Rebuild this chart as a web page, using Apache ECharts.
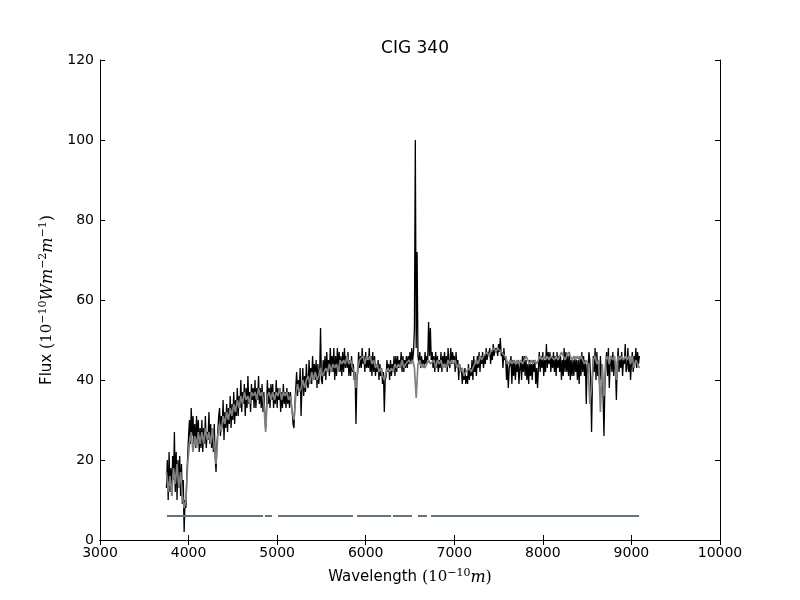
<!DOCTYPE html>
<html>
<head>
<meta charset="utf-8">
<script src="https://cdn.jsdelivr.net/npm/echarts@6/dist/echarts.min.js"></script>
<style>
html, body { margin: 0; padding: 0; background: #fff; }
#main { width: 800px; height: 600px; }
</style>
</head>
<body>
<div id="main"></div>
<script>
// observed spectrum sampling (Angstrom)
var obsStart = 3750;
var obsStep = 10;

// observed flux (black), 200 A per row
var fluxObs = [
  13, 20, 10, 22, 12, 18, 11, 21, 15, 27, 12, 22, 10, 20, 13, 21, 11, 19, 9, 15,
  2, 10, 8, 16, 21, 26, 30, 24, 33, 26, 31, 24, 29, 23, 31, 25, 30, 22, 28, 23,
  30, 22, 28, 24, 31, 23, 27, 25, 32, 24, 29, 23, 28, 22, 29, 21, 17, 24, 27, 31,
  33, 26, 31, 28, 35, 25, 32, 28, 34, 27, 33, 29, 36, 28, 34, 30, 37, 29, 35, 31,
  38, 31, 36, 33, 40, 32, 37, 34, 39, 31, 38, 33, 41, 34, 37, 32, 39, 35, 38, 33,
  40, 33, 38, 35, 41, 34, 38, 33, 39, 32, 37, 31, 28, 33, 40, 34, 38, 33, 39, 35,
  39, 33, 37, 34, 40, 33, 38, 35, 38, 32, 37, 33, 39, 34, 37, 33, 38, 34, 37, 33,
  37, 34, 32, 29, 28, 34, 38, 42, 36, 40, 37, 43, 31, 38, 43, 36, 41, 37, 44, 39,
  38, 45, 40, 43, 39, 46, 41, 44, 40, 45, 38, 44, 39, 42, 53, 40, 39, 45, 41, 46,
  40, 47, 42, 45, 41, 48, 43, 46, 42, 48, 40, 46, 41, 48, 43, 47, 42, 46, 41, 47,
  42, 48, 43, 46, 43, 47, 41, 45, 41, 46, 42, 44, 40, 42, 29, 40, 42, 47, 43, 46,
  43, 48, 44, 46, 42, 47, 43, 45, 43, 48, 42, 46, 41, 47, 42, 46, 41, 44, 42, 45,
  40, 44, 41, 43, 39, 42, 32, 40, 41, 45, 42, 44, 40, 45, 41, 44, 42, 46, 41, 46,
  42, 46, 43, 45, 43, 47, 42, 46, 42, 45, 43, 46, 43, 46, 44, 47, 44, 48, 45, 47,
  53, 100, 48, 72, 46, 44, 47, 43, 46, 44, 45, 43, 47, 44, 46, 45, 54.5, 46, 53, 45,
  47, 43, 46, 42, 47, 43, 46, 42, 45, 43, 47, 42, 46, 44, 47, 43, 46, 42, 48, 44,
  43, 48, 44, 47, 45, 46, 42, 47, 43, 45, 40, 44, 42, 43, 39, 42, 40, 43, 39, 41,
  39, 44, 40, 43, 41, 45, 40, 46, 42, 44, 41, 46, 43, 47, 42, 46, 44, 47, 43, 46,
  44, 48, 45, 47, 46, 48, 44, 47, 45, 49, 46, 48, 47, 48, 46, 49, 47, 50.5, 46, 47,
  43, 48, 45, 46, 40, 44, 38, 43, 44, 46, 39, 45, 41, 45, 40, 44, 42, 45, 39, 43,
  45, 40, 46, 42, 46, 41, 45, 40, 44, 39, 45, 41, 44, 40, 45, 42, 45, 39, 43, 38,
  43, 47, 42, 46, 43, 47, 41, 45, 42, 49, 43, 47, 44, 47, 42, 46, 43, 47, 42, 46,
  41, 47, 43, 46, 42, 46, 40, 45, 41, 48, 42, 47, 42, 46, 41, 47, 40, 45, 41, 45,
  41, 46, 42, 45, 40, 45, 39, 46, 41, 47, 42, 46, 41, 45, 34, 44, 42, 47, 45, 40,
  27, 40, 46, 42, 48, 40, 47, 41, 44, 39, 46, 40, 44, 36, 26, 38, 44, 47, 41, 48,
  38, 44, 46, 42, 47, 41, 45, 43, 35, 44, 48, 42, 46, 43, 47, 41, 45, 44, 49, 42,
  43, 48, 42, 46, 40, 44, 47, 42, 46, 44, 48, 43, 47, 44, 46
];

// model spectrum sampling (Angstrom)
var modelStart = 3750;
var modelStep = 20;

// model flux (grey), 200 A per row
var fluxModel = [
  17, 12, 16, 11, 18, 14, 19, 13, 17, 11,
  8, 10, 19, 24, 27, 22, 26, 23, 27, 24,
  27, 24, 28, 25, 27, 24, 28, 23, 19, 26,
  29, 27, 31, 29, 32, 30, 33, 31, 34, 32,
  35, 33, 36, 34, 37, 35, 36, 34, 37, 36,
  37, 35, 38, 36, 37, 34, 27, 36, 37, 35,
  37, 35, 37, 36, 38, 35, 37, 36, 37, 35,
  36, 32, 30, 36, 39, 37, 38, 40, 38, 40,
  41, 39, 42, 40, 42, 40, 41, 43, 41, 42,
  43, 42, 44, 42, 44, 43, 44, 42, 45, 44,
  45, 44, 46, 44, 45, 43, 42, 38, 43, 45,
  45, 46, 44, 46, 45, 46, 44, 45, 43, 44,
  42, 43, 41, 40, 42, 43, 42, 43, 42, 44,
  43, 44, 43, 45, 43, 44, 44, 45, 44, 45,
  43, 35.5, 44, 45, 43, 44, 43, 44, 45, 44,
  44, 45, 43, 45, 44, 45, 43, 44, 43, 45,
  44, 45, 44, 45, 43, 44, 42, 43, 41, 42,
  42, 43, 42, 43, 44, 45, 44, 46, 45, 46,
  46, 47, 46, 47, 47, 48, 47, 48, 48, 47,
  47, 46, 45, 44, 45, 44, 45, 44, 45, 44,
  45, 44, 45, 46, 45, 44, 45, 44, 45, 44,
  45, 46, 45, 46, 45, 46, 45, 46, 46, 45,
  46, 45, 46, 47, 46, 45, 46, 47, 46, 45,
  46, 45, 46, 45, 46, 45, 44, 45, 44, 34,
  38, 45, 46, 44, 45, 32, 44, 36, 45, 46,
  44, 46, 45, 46, 40, 46, 45, 46, 45, 46,
  45, 46, 44, 46, 43, 45, 44, 43
];

// good-pixel mask segments
var maskStart = [3756, 4863, 5010, 5902, 6308, 6590, 6737];
var maskEnd   = [4840, 4942, 5856, 6286, 6523, 6692, 9086];
var maskLevel = 6;

var obsData = [];
for (var i = 0; i < fluxObs.length; i++) obsData.push([obsStart + i * obsStep, fluxObs[i]]);
var modelData = [];
for (var j = 0; j < fluxModel.length; j++) modelData.push([modelStart + j * modelStep, fluxModel[j]]);
var maskData = [];
for (var k = 0; k < maskStart.length; k++) {
  if (k > 0) maskData.push([(maskEnd[k - 1] + maskStart[k]) / 2, '-']);
  maskData.push([maskStart[k], maskLevel]);
  maskData.push([maskEnd[k], maskLevel]);
}

var font = 'DejaVu Sans';
var serif = 'DejaVu Serif';
var lineStyle = { color: '#000', width: 1 };
var tickIn = { show: true, inside: true, length: 5, lineStyle: { color: '#000' } };
var plain = function(v) { return String(v); };
var mathRich = {
  p: { fontFamily: serif, fontSize: 16, color: '#000' },
  n: { fontFamily: serif, fontSize: 15, color: '#000' },
  sup: { fontFamily: serif, fontSize: 11, color: '#000', verticalAlign: 'top', padding: [0, 0, 8, 0] },
  it: { fontFamily: serif, fontStyle: 'italic', fontSize: 16, color: '#000' }
};

var myChart = echarts.init(document.getElementById('main'));
var option = {
  animation: false,
  backgroundColor: '#fff',
  title: {
    text: 'CIG 340',
    left: 410, top: 35, textAlign: 'center',
    textStyle: { fontFamily: font, fontSize: 17, fontWeight: 'normal', color: '#000' }
  },
  grid: { left: 100, right: 80, top: 60, bottom: 60 },
  xAxis: [{
    type: 'value', min: 3000, max: 10000, interval: 1000,
    position: 'bottom',
    axisLine: { show: true, lineStyle: lineStyle },
    axisTick: tickIn,
    splitLine: { show: false },
    axisLabel: { color: '#000', fontFamily: font, fontSize: 14, margin: 6, formatter: plain },
    name: 'Wavelength {p|(}{n|10}{sup|−10}{it|m}{p|)}',
    nameLocation: 'middle', nameGap: 28,
    nameTextStyle: { color: '#000', fontFamily: font, fontSize: 15, verticalAlign: 'top', rich: mathRich }
  }, {
    type: 'value', min: 3000, max: 10000, interval: 1000,
    position: 'top',
    axisLine: { show: true, lineStyle: lineStyle },
    axisTick: tickIn,
    splitLine: { show: false },
    axisLabel: { show: false }
  }],
  yAxis: [{
    type: 'value', min: 0, max: 120, interval: 20,
    position: 'left',
    axisLine: { show: true, lineStyle: lineStyle },
    axisTick: tickIn,
    splitLine: { show: false },
    axisLabel: { color: '#000', fontFamily: font, fontSize: 14, margin: 6, formatter: plain },
    name: 'Flux {p|(}{n|10}{sup|−10}{it|Wm}{sup|−2}{it|m}{sup|−1}{p|)}',
    nameLocation: 'middle', nameGap: 43, nameRotate: 90,
    nameTextStyle: { color: '#000', fontFamily: font, fontSize: 15, rich: mathRich }
  }, {
    type: 'value', min: 0, max: 120, interval: 20,
    position: 'right',
    axisLine: { show: true, lineStyle: lineStyle },
    axisTick: tickIn,
    splitLine: { show: false },
    axisLabel: { show: false }
  }],
  series: [{
    name: 'observed', type: 'line', data: obsData,
    showSymbol: false, symbol: 'none',
    lineStyle: { color: '#000', width: 1.3 }, z: 2
  }, {
    name: 'model', type: 'line', data: modelData,
    showSymbol: false, symbol: 'none',
    lineStyle: { color: '#808080', width: 1.7 }, z: 3
  }, {
    name: 'mask', type: 'line', data: maskData,
    showSymbol: false, symbol: 'none', connectNulls: false,
    lineStyle: { color: '#627580', width: 2 }, z: 4
  }]
};
myChart.setOption(option);
</script>
</body>
</html>
